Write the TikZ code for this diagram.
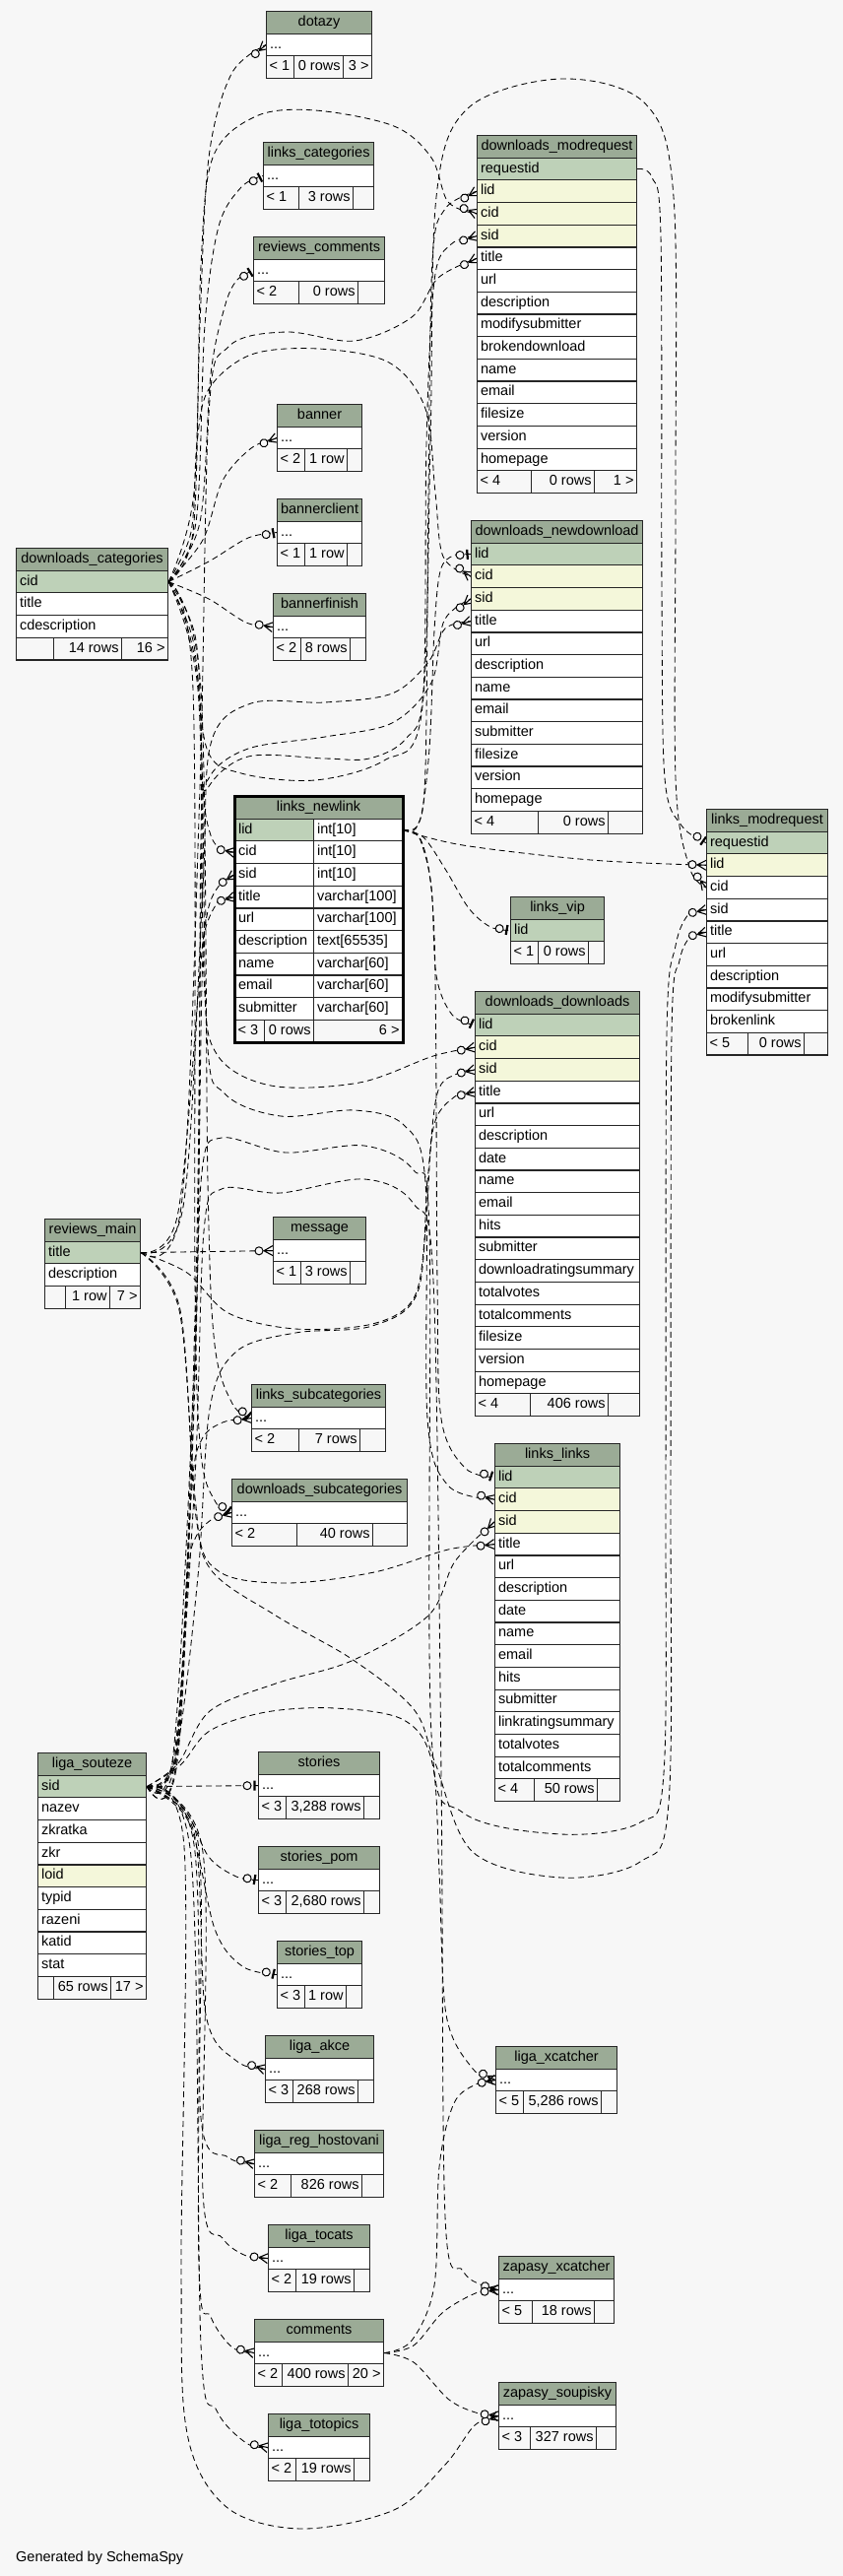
\documentclass[tikz,border=0pt]{standalone}
\usepackage{fontspec}
\setmainfont{Liberation Sans}
\definecolor{bgc}{HTML}{F7F7F7}
\definecolor{hdrc}{HTML}{9BAB96}
\definecolor{pkc}{HTML}{BED1B8}
\definecolor{fkc}{HTML}{F4F7DA}
\pgfdeclarelayer{bglayer}
\pgfdeclarelayer{edgelayer}
\pgfsetlayers{bglayer,edgelayer,main}
\newcommand\dts{...}
\newcommand\crowmark{\draw[solid,line width=1.1pt] (-9pt,0pt) -- (0pt,5pt) (-9pt,0pt) -- (0pt,0pt) (-9pt,0pt) -- (0pt,-5pt);
  \draw[solid,line width=1pt,fill=bgc] (-14pt,0pt) circle (4pt);}
\newcommand\onebarmark{\draw[solid,line width=2.2pt] (-3.5pt,-5pt) -- (-3.5pt,5pt);
  \draw[solid,line width=1pt,fill=bgc] (-11pt,0pt) circle (4pt);}
\tikzset{
  cell/.style={draw=black!85, line width=1.1pt, inner sep=0pt, minimum height=22.68pt, anchor=north west, text height=10.6pt, text depth=3.4pt},
  rel/.style={draw=black, line width=0.85pt, dash pattern=on 6pt off 4pt},
}
\newcommand\tab[6]{%
  \node[cell, fill=hdrc, minimum width=#4pt] (#1-0) at (#2,#3) {#5};
  \foreach \rc/\rt [count=\i] in {#6} {
    \node[cell, fill=\rc, minimum width=#4pt] (#1-\i) at (#2,{#3+\i*22.68}) {\makebox[#4pt][l]{\hspace{3.5pt}\rt}};
  }}
\newcommand\foot[9]{%
  \pgfmathsetmacro\wa{#4-#3}\pgfmathsetmacro\wb{#5-#4}\pgfmathsetmacro\wc{#6-#5}%
  \node[cell, fill=bgc, minimum width=\wa pt] (#1-fa) at (#3,{#2}) {\makebox[\wa pt][l]{\hspace{3pt}#7}};
  \node[cell, fill=bgc, minimum width=\wb pt] (#1-fb) at (#4,{#2}) {\makebox[\wb pt][r]{#8\hspace{3pt}}};
  \node[cell, fill=bgc, minimum width=\wc pt] (#1-fc) at (#5,{#2}) {\makebox[\wc pt][r]{#9\hspace{3pt}}};}
% mark at child end, oriented from the previous point
\newcommand\mk[3]{%
  \path #3 coordinate (mkA); \path #2 coordinate (mkB);
  \pgfmathanglebetweenpoints{\pgfpointanchor{mkB}{center}}{\pgfpointanchor{mkA}{center}}%
  \let\mkang\pgfmathresult
  \begin{scope}[shift={(mkA)}, rotate=\mkang]\csname #1mark\endcsname\end{scope}}
% edge: mark type, start+points, last point before child, child anchor
\newcommand\E[4]{\draw[rel] plot[smooth,tension=0.55] coordinates {#2 #3 #4};\mk{#1}{#3}{#4}}

\begin{document}
\begin{tikzpicture}[x=1pt,y=-1pt,font=\fontsize{14.5}{17}\selectfont]
\begin{pgfonlayer}{bglayer}
\fill[bgc] (0,0) rectangle (856,2615);
\end{pgfonlayer}
\useasboundingbox (0,0) rectangle (856,2615);

% ---------- tables ----------
\tab{dt}{270}{11}{107}{dotazy}{white/\dts}
\foot{dt}{11+2*22.68}{270}{298}{348}{377}{< 1}{0 rows}{3 >}
\tab{lc}{267}{144}{112}{links\_categories}{white/\dts}
\foot{lc}{144+2*22.68}{267}{303}{358}{379}{< 1}{3 rows}{}
\tab{rc}{257}{240}{133}{reviews\_comments}{white/\dts}
\foot{rc}{240+2*22.68}{257}{303}{363}{390}{< 2}{0 rows}{}
\tab{dmr}{484}{137}{162}{downloads\_modrequest}{pkc/requestid,fkc/lid,fkc/cid,fkc/sid,white/title,white/url,white/description,white/modifysubmitter,white/brokendownload,white/name,white/email,white/filesize,white/version,white/homepage}
\foot{dmr}{137+15*22.68}{484}{539}{603}{646}{< 4}{0 rows}{1 >}
\tab{bn}{281}{410}{86}{banner}{white/\dts}
\foot{bn}{410+2*22.68}{281}{309}{352}{367}{< 2}{1 row}{}
\tab{bc}{281}{506}{86}{bannerclient}{white/\dts}
\foot{bc}{506+2*22.68}{281}{309}{352}{367}{< 1}{1 row}{}
\tab{dc}{16}{556}{154}{downloads\_categories}{pkc/cid,white/title,white/cdescription}
\foot{dc}{556+4*22.68}{16}{54}{123}{170}{}{14 rows}{16 >}
\tab{bf}{277}{602}{94}{bannerfinish}{white/\dts}
\foot{bf}{602+2*22.68}{277}{305}{355}{371}{< 2}{8 rows}{}
\tab{dnd}{478}{528}{174}{downloads\_newdownload}{pkc/lid,fkc/cid,fkc/sid,white/title,white/url,white/description,white/name,white/email,white/submitter,white/filesize,white/version,white/homepage}
\foot{dnd}{528+13*22.68}{478}{546}{617}{652}{< 4}{0 rows}{}

\node[cell, fill=hdrc, minimum width=170pt] (ln-0) at (238,808) {links\_newlink};
\foreach \rc/\ra/\rb [count=\i] in {pkc/lid/int[10], white/cid/int[10], white/sid/int[10], white/title/varchar[100], white/url/varchar[100], white/description/text[65535], white/name/varchar[60], white/email/varchar[60], white/submitter/varchar[60]} {
  \node[cell, fill=\rc, minimum width=80pt] (ln-\i) at (238,{808+\i*22.68}) {\makebox[80pt][l]{\hspace{3.5pt}\ra}};
  \node[cell, fill=white, minimum width=90pt] (ln-t\i) at (318,{808+\i*22.68}) {\makebox[90pt][l]{\hspace{3.5pt}\rb}};
}
\foot{ln}{808+10*22.68}{238}{268}{318}{408}{< 3}{0 rows}{6 >}
\draw[line width=3pt, black] (ln-0.north west) rectangle (ln-fc.south east);

\tab{lmr}{717}{821}{123}{links\_modrequest}{pkc/requestid,fkc/lid,white/cid,white/sid,white/title,white/url,white/description,white/modifysubmitter,white/brokenlink}
\foot{lmr}{821+10*22.68}{717}{759}{816}{840}{< 5}{0 rows}{}
\tab{lv}{518}{910}{95}{links\_vip}{pkc/lid}
\foot{lv}{910+2*22.68}{518}{546}{597}{613}{< 1}{0 rows}{}
\tab{dd}{482}{1006}{167}{downloads\_downloads}{pkc/lid,fkc/cid,fkc/sid,white/title,white/url,white/description,white/date,white/name,white/email,white/hits,white/submitter,white/downloadratingsummary,white/totalvotes,white/totalcomments,white/filesize,white/version,white/homepage}
\foot{dd}{1006+18*22.68}{482}{538}{617}{649}{< 4}{406 rows}{}
\tab{rm}{45}{1237}{97}{reviews\_main}{pkc/title,white/description}
\foot{rm}{1237+3*22.68}{45}{66}{111}{142}{}{1 row}{7 >}
\tab{msg}{277}{1235}{94}{message}{white/\dts}
\foot{msg}{1235+2*22.68}{277}{305}{355}{371}{< 1}{3 rows}{}
\tab{lsc}{255}{1405}{136}{links\_subcategories}{white/\dts}
\foot{lsc}{1405+2*22.68}{255}{303}{365}{391}{< 2}{7 rows}{}
\tab{dsc}{235}{1501}{178}{downloads\_subcategories}{white/\dts}
\foot{dsc}{1501+2*22.68}{235}{301}{378}{413}{< 2}{40 rows}{}
\tab{ll}{502}{1465}{127}{links\_links}{pkc/lid,fkc/cid,fkc/sid,white/title,white/url,white/description,white/date,white/name,white/email,white/hits,white/submitter,white/linkratingsummary,white/totalvotes,white/totalcomments}
\foot{ll}{1465+15*22.68}{502}{542}{606}{629}{< 4}{50 rows}{}
\tab{ls}{38}{1779}{110}{liga\_souteze}{pkc/sid,white/nazev,white/zkratka,white/zkr,fkc/loid,white/typid,white/razeni,white/katid,white/stat}
\foot{ls}{1779+10*22.68}{38}{54}{112}{148}{}{65 rows}{17 >}
\tab{sto}{262}{1778}{123}{stories}{white/\dts}
\foot{sto}{1778+2*22.68}{262}{290}{369}{385}{< 3}{3,288 rows}{}
\tab{sp}{262}{1874}{123}{stories\_pom}{white/\dts}
\foot{sp}{1874+2*22.68}{262}{290}{369}{385}{< 3}{2,680 rows}{}
\tab{st}{281}{1970}{86}{stories\_top}{white/\dts}
\foot{st}{1970+2*22.68}{281}{309}{351}{367}{< 3}{1 row}{}
\tab{la}{269}{2066}{110}{liga\_akce}{white/\dts}
\foot{la}{2066+2*22.68}{269}{297}{363}{379}{< 3}{268 rows}{}
\tab{lx}{503}{2077}{123}{liga\_xcatcher}{white/\dts}
\foot{lx}{2077+2*22.68}{503}{531}{610}{626}{< 5}{5,286 rows}{}
\tab{lrh}{258}{2162}{131}{liga\_reg\_hostovani}{white/\dts}
\foot{lrh}{2162+2*22.68}{258}{295}{367}{389}{< 2}{826 rows}{}
\tab{lt}{272}{2258}{103}{liga\_tocats}{white/\dts}
\foot{lt}{2258+2*22.68}{272}{300}{359}{375}{< 2}{19 rows}{}
\tab{co}{258}{2354}{131}{comments}{white/\dts}
\foot{co}{2354+2*22.68}{258}{286}{353}{389}{< 2}{400 rows}{20 >}
\tab{lto}{272}{2450}{103}{liga\_totopics}{white/\dts}
\foot{lto}{2450+2*22.68}{272}{300}{359}{375}{< 2}{19 rows}{}
\tab{zx}{506}{2290}{117}{zapasy\_xcatcher}{white/\dts}
\foot{zx}{2290+2*22.68}{506}{540}{603}{623}{< 5}{18 rows}{}
\tab{zs}{506}{2418}{119}{zapasy\_soupisky}{white/\dts}
\foot{zs}{2418+2*22.68}{506}{538}{605}{625}{< 3}{327 rows}{}

\node[anchor=west, inner sep=0pt] (gen) at (16,2597) {Generated by SchemaSpy};

% ---------- relationships ----------
\begin{pgfonlayer}{edgelayer}
% downloads_categories.cid
\E{crow}{(dc-1.east) (196,540) (203,330) (212,160)}{(235,75)}{(dt-1.west)}
\E{onebar}{(dc-1.east) (199,530) (208,330) (222,230)}{(245,190)}{(lc-1.west)}
\E{onebar}{(dc-1.east) (203,530) (214,380) (228,312)}{(240,285)}{(rc-1.west)}
\E{crow}{(dc-1.east) (206,548) (226,488)}{(255,455)}{(bn-1.west)}
\E{onebar}{(dc-1.east) (212,570)}{(252,546)}{(bc-1.west)}
\E{crow}{(dc-1.east) (212,608)}{(250,632)}{(bf-1.west)}
\E{crow}{(dc-1.east) (197,500) (204,270) (216,160) (260,118) (320,112) (400,128) (438,160)}{(455,205)}{(dmr-3.west)}
\E{crow}{(dc-1.east) (196,650) (210,760) (245,785) (320,792) (390,772) (428,725) (437,450) (443,200) (475,110) (570,80) (655,105) (684,200) (686,500) (686,790)}{(700,880)}{(lmr-3.west)}
\E{crow}{(dc-1.east) (194,540) (200,450) (212,395) (255,360) (323,354) (395,368) (432,415) (442,500)}{(450,565)}{(dnd-2.west)}
\E{crow}{(dc-1.east) (199,650) (206,800) (214,848)}{(226,863)}{(ln-2.west)}
\E{crow}{(dc-1.east) (201,700) (207,990) (220,1070) (275,1102) (365,1099)}{(440,1072)}{(dd-2.west)}
\E{crow}{(dc-1.east) (202,700) (210,1050) (228,1110) (285,1133) (360,1127) (410,1142) (432,1200) (434,1440)}{(455,1508)}{(ll-2.west)}
\E{onebar}{(dc-1.east) (204,700) (211,1200) (218,1365)}{(236,1425)}{(lsc-1.west)}
\E{onebar}{(dc-1.east) (196,700) (198,1300) (204,1475)}{(219,1525)}{(dsc-1.west)}
% reviews_main.title
\E{crow}{}{(rm-1.east)}{(msg-1.west)}
\E{crow}{(rm-1.east) (184,1225) (203,800) (212,420) (232,352) (290,337) (360,346) (418,322)}{(445,282)}{(dmr-5.west)}
\E{crow}{(rm-1.east) (186,1225) (206,900) (214,755) (255,714) (330,713) (398,704) (435,672)}{(452,638)}{(dnd-4.west)}
\E{crow}{(rm-1.east) (180,1235) (202,1000) (208,945)}{(222,915)}{(ln-4.west)}
\E{crow}{(rm-1.east) (190,1292) (232,1333) (300,1349) (378,1344) (420,1318) (432,1250) (440,1145)}{(462,1113)}{(dd-4.west)}
\E{crow}{(rm-1.east) (183,1330) (199,1540) (222,1595) (290,1607) (380,1596)}{(455,1573)}{(ll-4.west)}
\E{crow}{(rm-1.east) (182,1330) (198,1520) (213,1592) (280,1640) (357,1684) (420,1735) (442,1790) (480,1880) (570,1906) (650,1890) (679,1830) (681,1500) (682,1050) (690,975)}{(702,950)}{(lmr-5.west)}
% liga_souteze.sid
\E{onebar}{}{(ls-1.east)}{(sto-1.west)}
\E{onebar}{(ls-1.east) (188,1838) (212,1885)}{(240,1905)}{(sp-1.west)}
\E{onebar}{(ls-1.east) (192,1850) (218,1958)}{(246,1996)}{(st-1.west)}
\E{crow}{(ls-1.east) (197,1860) (209,2045)}{(240,2092)}{(la-1.west)}
\E{crow}{(ls-1.east) (201,1870) (204,2150)}{(232,2190)}{(lrh-1.west)}
\E{crow}{(ls-1.east) (206,1880) (206,2225) (226,2272)}{(250,2290)}{(lt-1.west)}
\E{crow}{(ls-1.east) (198,1880) (202,2300) (214,2352)}{(236,2383)}{(co-1.west)}
\E{crow}{(ls-1.east) (194,1885) (204,2380) (220,2447)}{(250,2480)}{(lto-1.west)}
\E{crow}{(ls-1.east) (187,1875) (184,2300) (190,2470) (230,2545) (306,2567) (400,2548) (452,2502)}{(482,2462)}{(zs-1.west)}
\E{crow}{(ls-1.east) (183,1792) (213,1757) (270,1738) (340,1734) (410,1746) (439,1790) (446,1900) (453,2045)}{(480,2100)}{(lx-1.west)}
\E{crow}{(ls-1.east) (177,1780) (198,1500) (207,1250) (225,1207) (285,1211) (370,1197) (420,1222) (440,1300) (448,1800) (452,2250) (470,2305)}{(490,2320)}{(zx-1.west)}
\E{crow}{(ls-1.east) (181,1790) (213,1737) (280,1709) (357,1686) (435,1640)}{(462,1585)}{(ll-3.west)}
\E{crow}{(ls-1.east) (176,1780) (197,1400) (205,1190) (225,1155) (290,1170) (370,1163) (420,1188) (436,1250) (438,1760) (470,1840) (570,1862) (650,1850) (674,1800) (676,1500) (677,1050) (686,960)}{(700,927)}{(lmr-4.west)}
\E{crow}{(ls-1.east) (178,1785) (201,1600) (213,1430) (240,1372) (300,1353) (378,1346) (424,1312) (434,1200) (444,1110)}{(464,1090)}{(dd-3.west)}
\E{crow}{(ls-1.east) (179,1780) (198,1400) (205,1000) (211,925)}{(224,897)}{(ln-3.west)}
\E{crow}{(ls-1.east) (180,1780) (199,1300) (205,850) (212,790) (252,760) (330,748) (398,734) (438,693)}{(451,630)}{(dnd-3.west)}
\E{crow}{(ls-1.east) (181,1780) (200,1300) (204,850) (211,800) (252,768) (330,770) (375,770) (412,750) (430,700) (433,450) (441,285)}{(458,248)}{(dmr-4.west)}
\E{crow}{(ls-1.east) (178,1782) (194,1520) (204,1463)}{(226,1444)}{(lsc-1.west)}
\E{crow}{(ls-1.east) (179,1786) (191,1600) (199,1560)}{(217,1541)}{(dsc-1.west)}
% links_newlink.lid
\E{crow}{(ln-t1.east) (424,838) (432,780) (435,500) (439,265)}{(452,212)}{(dmr-2.west)}
\E{onebar}{(ln-t1.east) (426,834) (436,760) (441,640) (447,580)}{(460,564)}{(dnd-1.west)}
\E{onebar}{(ln-t1.east) (430,850) (452,882) (476,922)}{(498,941)}{(lv-1.west)}
\E{crow}{(ln-t1.east) (470,858)}{(600,873)}{(lmr-2.west)}
\E{onebar}{(ln-t1.east) (427,852) (438,900) (443,990)}{(459,1030)}{(dd-1.west)}
\E{onebar}{(ln-t1.east) (428,856) (441,950) (444,1300) (448,1440)}{(472,1490)}{(ll-1.west)}
% downloads_modrequest.requestid
\E{onebar}{(dmr-1.east) (662,180) (671,240) (672,600) (675,790)}{(692,838)}{(lmr-1.west)}
% comments
\E{crow}{(co-1.east) (420,2381) (450,2347)}{(485,2327)}{(zx-1.west)}
\E{crow}{(co-1.east) (420,2398) (456,2436)}{(486,2450)}{(zs-1.west)}
\E{crow}{(co-1.east) (418,2376) (441,2320) (446,2200) (461,2135)}{(485,2115)}{(lx-1.west)}
\end{pgfonlayer}
\end{tikzpicture}
\end{document}
